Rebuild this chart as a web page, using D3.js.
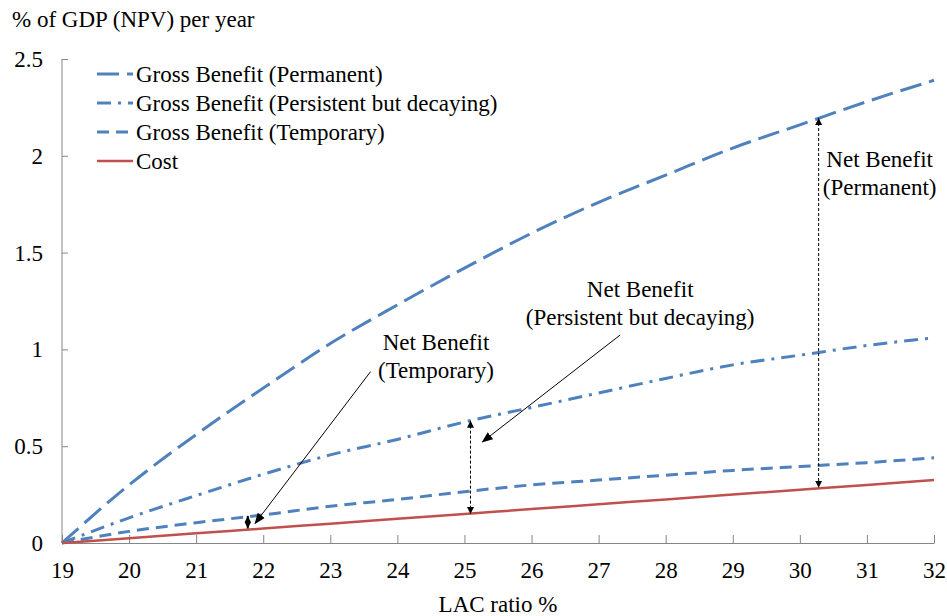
<!DOCTYPE html>
<html>
<head>
<meta charset="utf-8">
<script src="https://cdn.jsdelivr.net/npm/d3@7/dist/d3.min.js"></script>
<style>
  body { margin: 0; background: #fff; }
  svg { display: block; }
  text { font-family: "Liberation Serif", "Times New Roman", serif; fill: #000; }
</style>
</head>
<body>
<svg id="chart" width="947" height="616"></svg>
<script>
// ---- data ----
const lacRatio = [19, 20, 21, 22, 23, 24, 25, 26, 27, 28, 29, 30, 31, 32];
const grossPermanent = [0, 0.30, 0.56, 0.80, 1.03, 1.23, 1.42, 1.60, 1.76, 1.90, 2.04, 2.16, 2.28, 2.39];
const grossPersistent = [0, 0.13, 0.245, 0.355, 0.455, 0.535, 0.625, 0.70, 0.775, 0.85, 0.92, 0.97, 1.02, 1.06];
const grossTemporary = [0, 0.06, 0.105, 0.145, 0.19, 0.225, 0.265, 0.30, 0.325, 0.35, 0.375, 0.395, 0.415, 0.44];
const cost = [0, 0.025, 0.05, 0.075, 0.10, 0.125, 0.15, 0.175, 0.20, 0.225, 0.25, 0.275, 0.30, 0.325];
const xTicks = [19, 20, 21, 22, 23, 24, 25, 26, 27, 28, 29, 30, 31, 32];
const yTicks = [0, 0.5, 1, 1.5, 2, 2.5];
const seriesNames = ["Gross Benefit (Permanent)", "Gross Benefit (Persistent but decaying)", "Gross Benefit (Temporary)", "Cost"];

// annotations (data units)
const netArrows = [
  { x: 30.28, y1: 2.195, y2: 0.285, kind: "dotted" },
  { x: 25.09, y1: 0.632, y2: 0.150, kind: "dotted" },
  { x: 21.77, y1: 0.140, y2: 0.075, kind: "solid" }
];
const pointers = [
  { x1: 27.32, y1: 1.074, x2: 25.27, y2: 0.523 },
  { x1: 23.60, y1: 0.885, x2: 21.88, y2: 0.102 }
];
const labels = [
  { x: 31.19, y: 1.942, lines: ["Net Benefit", "(Permanent)"] },
  { x: 27.62, y: 1.272, lines: ["Net Benefit", "(Persistent but decaying)"] },
  { x: 24.575, y: 0.997, lines: ["Net Benefit", "(Temporary)"] }
];

// ---- setup ----
const svg = d3.select("#chart");
const x = d3.scaleLinear().domain([19, 32]).range([62, 934]);
const y = d3.scaleLinear().domain([0, 2.5]).range([543, 59]);
const blue = "#4F81BD", red = "#C0504D", axisColor = "#868686";
const FS = 23;

const styles = [
  { color: blue, width: 3, dash: "22,8" },
  { color: blue, width: 3, dash: "14,7,3,7" },
  { color: blue, width: 3, dash: "12,7" },
  { color: red, width: 2.5, dash: null }
];
const seriesValues = [grossPermanent, grossPersistent, grossTemporary, cost];

// defs: arrowheads
const defs = svg.append("defs");
defs.append("marker").attr("id", "ahBig").attr("viewBox", "0 0 10 10")
  .attr("refX", 9).attr("refY", 5).attr("markerUnits", "userSpaceOnUse")
  .attr("markerWidth", 11).attr("markerHeight", 11).attr("orient", "auto-start-reverse")
  .append("path").attr("d", "M0,1 L10,5 L0,9 Z").attr("fill", "#000");
defs.append("marker").attr("id", "ahSmall").attr("viewBox", "0 0 10 10")
  .attr("refX", 10).attr("refY", 5).attr("markerUnits", "userSpaceOnUse")
  .attr("markerWidth", 7).attr("markerHeight", 9).attr("orient", "auto-start-reverse")
  .append("path").attr("d", "M0,0 L10,5 L0,10 Z").attr("fill", "#000");
defs.append("marker").attr("id", "ahDiamond").attr("viewBox", "0 0 10 10")
  .attr("refX", 10).attr("refY", 5).attr("markerUnits", "userSpaceOnUse")
  .attr("markerWidth", 6.5).attr("markerHeight", 9).attr("orient", "auto-start-reverse")
  .append("path").attr("d", "M0,0 L10,5 L0,10 Z").attr("fill", "#000");

// ---- axes ----
const xAxis = d3.axisBottom(x).tickValues(xTicks).tickSizeInner(-8).tickSizeOuter(0).tickPadding(0)
  .tickFormat(d => String(d));
const gx = svg.append("g").attr("transform", `translate(0,${y(0)})`).call(xAxis);
gx.selectAll("path, line").attr("stroke", axisColor);
gx.selectAll("text").attr("font-size", FS).attr("font-family", "Liberation Serif")
  .attr("y", 35).attr("dy", 0);

const yAxis = d3.axisLeft(y).tickValues(yTicks).tickSizeInner(-6).tickSizeOuter(0).tickPadding(19)
  .tickFormat(d => String(d));
const gy = svg.append("g").attr("transform", `translate(${x(19)},0)`).call(yAxis);
gy.selectAll("path, line").attr("stroke", axisColor);
gy.selectAll("text").attr("font-size", FS).attr("font-family", "Liberation Serif").attr("dy", "0.33em");
gy.select(".domain").remove();
svg.append("line").attr("x1", x(19)).attr("x2", x(19)).attr("y1", y(2.5)).attr("y2", y(0))
  .attr("stroke", axisColor);

// axis titles
svg.append("text").attr("x", 12).attr("y", 27).attr("font-size", FS).text("% of GDP (NPV) per year");
svg.append("text").attr("x", (x(19) + x(32)) / 2).attr("y", 612).attr("text-anchor", "middle")
  .attr("font-size", FS).text("LAC ratio %");

// ---- lines ----
const line = d3.line().x((d, i) => x(lacRatio[i])).y(d => y(d)).curve(d3.curveMonotoneX);
seriesValues.forEach((vals, k) => {
  svg.append("path").datum(vals).attr("d", line)
    .attr("fill", "none").attr("stroke", styles[k].color).attr("stroke-width", styles[k].width)
    .attr("stroke-dasharray", styles[k].dash);
});

// ---- legend ----
const lg = svg.append("g").attr("transform", "translate(97,74)");
seriesNames.forEach((name, k) => {
  const row = lg.append("g").attr("transform", `translate(0,${k * 29})`);
  row.append("line").attr("x1", 0).attr("x2", 36).attr("y1", 0).attr("y2", 0)
    .attr("stroke", styles[k].color).attr("stroke-width", styles[k].width)
    .attr("stroke-dasharray", styles[k].dash);
  row.append("text").attr("x", 39).attr("y", 0).attr("dy", "0.33em").attr("font-size", FS).text(name);
});

// ---- annotations ----
netArrows.forEach(a => {
  const l = svg.append("line").attr("x1", x(a.x)).attr("x2", x(a.x)).attr("y1", y(a.y1)).attr("y2", y(a.y2))
    .attr("stroke", "#000");
  if (a.kind === "dotted") {
    l.attr("stroke-width", 1).attr("stroke-dasharray", "3,2")
      .attr("marker-start", "url(#ahSmall)").attr("marker-end", "url(#ahSmall)");
  } else {
    l.attr("stroke-width", 2).attr("marker-start", "url(#ahDiamond)").attr("marker-end", "url(#ahDiamond)");
  }
});
pointers.forEach(p => {
  svg.append("line").attr("x1", x(p.x1)).attr("y1", y(p.y1)).attr("x2", x(p.x2)).attr("y2", y(p.y2))
    .attr("stroke", "#000").attr("stroke-width", 1).attr("marker-end", "url(#ahBig)");
});
labels.forEach(lb => {
  const t = svg.append("text").attr("x", x(lb.x)).attr("y", y(lb.y)).attr("text-anchor", "middle")
    .attr("font-size", FS);
  lb.lines.forEach((s, i) => {
    t.append("tspan").attr("x", x(lb.x)).attr("dy", i === 0 ? 0 : 28).text(s);
  });
});
</script>
</body>
</html>
